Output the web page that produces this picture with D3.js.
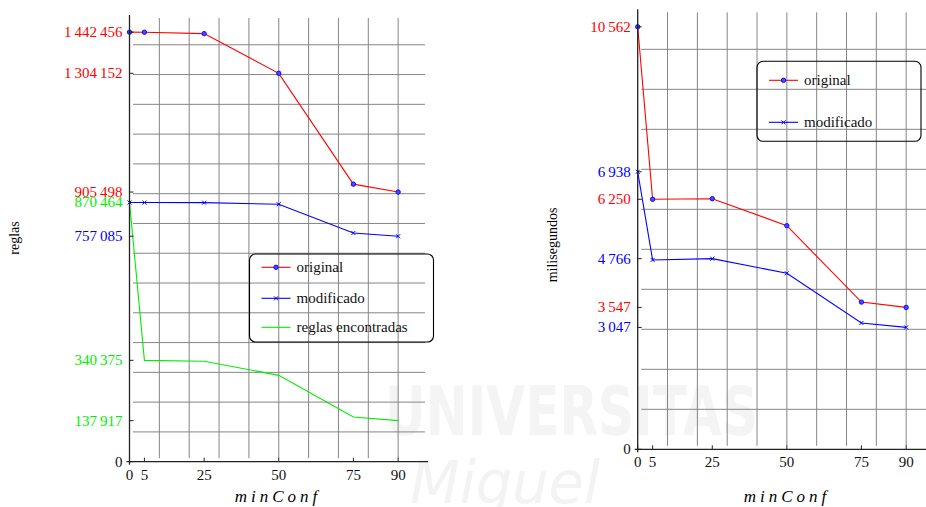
<!DOCTYPE html>
<html>
<head>
<meta charset="utf-8">
<title>reglas / milisegundos vs minConf</title>
<script src="https://d3js.org/d3.v7.min.js"></script>
<style>
  body { margin: 0; background: #fff; }
  svg { display: block; }
  svg text { font-family: "Liberation Serif", "Times New Roman", Times, serif; }
  .grid line { stroke: #858585; stroke-width: 1; }
  .axis-line { stroke: #222; stroke-width: 1.3; }
</style>
</head>
<body>
<svg id="chart" width="926" height="507"></svg>
<script>
// ---- datos ----
const minConf = [0, 5, 25, 50, 75, 90];

const reglasOriginal    = [1442456, 1442100, 1437500, 1304152, 932000, 905498];
const reglasModificado  = [870464, 870200, 869800, 864500, 768000, 757085];
const reglasEncontradas = [870464, 340375, 337200, 290000, 150000, 137917];

const tiempoOriginal   = [10562, 6250, 6265, 5590, 3680, 3547];
const tiempoModificado = [6938, 4733, 4766, 4400, 3158, 3047];

// etiquetas del eje y (valor y serie a la que pertenece)
const reglasTicks      = [0, 137917, 340375, 757085, 870464, 905498, 1304152, 1442456];
const reglasTickSeries = ["eje", "encontradas", "encontradas", "modificado", "encontradas", "original", "original", "original"];
const tiempoTicks      = [0, 3047, 3547, 4766, 6250, 6938, 10562];
const tiempoTickSeries = ["eje", "modificado", "original", "modificado", "original", "modificado", "original"];

const xTicks = [0, 5, 25, 50, 75, 90];

// ---- estilos ----
const colors = { original: "#ff0000", modificado: "#0000ff", encontradas: "#00ee00", eje: "#111" };
const serif = "\"Liberation Serif\", \"Times New Roman\", Times, serif";

const locale = d3.formatLocale({ decimal: ".", thousands: "\u2009", grouping: [3], currency: ["", ""] });
const fmt = locale.format(",d");

const svg = d3.select("#chart");

// marca de agua
svg.append("text")
    .attr("x", 385).attr("y", 435)
    .attr("textLength", 373).attr("lengthAdjust", "spacingAndGlyphs")
    .style("font-family", "\"DejaVu Sans\", sans-serif").style("font-weight", "bold")
    .style("font-size", "68px").style("fill", "#f4f4f4")
    .text("UNIVERSITAS");
svg.append("text")
    .attr("x", 410).attr("y", 503)
    .attr("textLength", 190).attr("lengthAdjust", "spacingAndGlyphs")
    .style("font-family", "\"DejaVu Sans\", sans-serif").style("font-style", "italic")
    .style("font-size", "58px").style("fill", "#f3f3f3")
    .text("Miguel");

function marker(g, type, cx, cy) {
    if (type === "circle") {
        g.append("circle").attr("cx", cx).attr("cy", cy).attr("r", 2.2)
            .attr("fill", "#4a4aff").attr("stroke", "#0000ff").attr("stroke-width", 0.9);
    } else if (type === "cross") {
        const s = 2;
        g.append("path")
            .attr("d", `M${cx - s},${cy - s}L${cx + s},${cy + s}M${cx - s},${cy + s}L${cx + s},${cy - s}`)
            .attr("stroke", "#0000ff").attr("stroke-width", 1);
    }
}

function panel(opt) {
    const g = svg.append("g");
    const x = d3.scaleLinear().domain([0, 100]).range(opt.xRange);
    const y = d3.scaleLinear().domain([0, opt.yMax]).range(opt.yRange);

    // rejilla
    const grid = g.append("g").attr("class", "grid");
    grid.selectAll("line.v").data(d3.range(10, 91, 10)).enter().append("line")
        .attr("x1", d => x(d)).attr("x2", d => x(d))
        .attr("y1", y(opt.yMax) + 3).attr("y2", y(0) - 3.5);
    grid.selectAll("line.h").data(d3.range(opt.yStep, opt.yMax, opt.yStep)).enter().append("line")
        .attr("x1", x(0) + 3.5).attr("x2", x(100) - 3)
        .attr("y1", d => y(d)).attr("y2", d => y(d));

    // series
    opt.series.forEach(s => {
        const pts = minConf.map((c, i) => [x(c), y(s.values[i])]);
        g.append("path")
            .attr("d", d3.line()(pts))
            .attr("fill", "none").attr("stroke", colors[s.key]).attr("stroke-width", 1.1);
        if (s.marker) pts.forEach(p => marker(g, s.marker, p[0], p[1]));
    });

    // ejes
    g.append("line").attr("class", "axis-line")
        .attr("x1", x(0)).attr("x2", x(0)).attr("y1", y(opt.yMax)).attr("y2", y(0) + 3);
    g.append("line").attr("class", "axis-line")
        .attr("x1", x(0) - 3).attr("x2", x(100)).attr("y1", y(0)).attr("y2", y(0));

    // marcas y etiquetas eje y
    opt.yTicks.forEach((v, i) => {
        g.append("line").attr("class", "axis-line").style("stroke-width", 1)
            .attr("x1", x(0)).attr("x2", x(0) + 4).attr("y1", y(v)).attr("y2", y(v));
        g.append("text")
            .attr("x", x(0) - 7).attr("y", y(v))
            .attr("dy", "0.33em").attr("text-anchor", "end")
            .style("font-family", serif)
            .style("font-size", "15px").style("fill", colors[opt.yTickSeries[i]])
            .text(fmt(v));
    });

    // marcas y etiquetas eje x
    xTicks.forEach(v => {
        g.append("line").attr("class", "axis-line").style("stroke-width", 1)
            .attr("x1", x(v)).attr("x2", x(v)).attr("y1", y(0)).attr("y2", y(0) - 4);
        g.append("text")
            .attr("x", x(v)).attr("y", y(0) + 18)
            .attr("text-anchor", "middle")
            .style("font-family", serif)
            .style("font-size", "15px").style("fill", "#111")
            .text(v);
    });

    // título de ejes
    g.append("text")
        .attr("x", opt.xLabelX).attr("y", 502)
        .attr("text-anchor", "middle")
        .style("font-family", serif)
        .style("font-size", "17px").style("font-style", "italic").style("letter-spacing", "4px")
        .text("minConf");
    g.append("text")
        .attr("transform", `translate(${opt.yLabel[0]},${opt.yLabel[1]}) rotate(-90)`)
        .attr("text-anchor", "middle")
        .style("font-family", serif)
        .style("font-size", "14px")
        .text(opt.yTitle);

    // leyenda
    const lg = g.append("g");
    lg.append("rect")
        .attr("x", opt.legend.x).attr("y", opt.legend.y)
        .attr("width", opt.legend.w).attr("height", opt.legend.h)
        .attr("rx", 6).attr("fill", "none").attr("stroke", "#000").attr("stroke-width", 1.1);
    opt.series.forEach((s, i) => {
        const ly = opt.legend.rows[i];
        const lx = opt.legend.x + 12;
        lg.append("line")
            .attr("x1", lx).attr("x2", lx + 29).attr("y1", ly).attr("y2", ly)
            .attr("stroke", colors[s.key]).attr("stroke-width", 1.1);
        if (s.marker) marker(lg, s.marker, lx + 14.5, ly);
        lg.append("text")
            .attr("x", lx + 35).attr("y", ly).attr("dy", "0.33em")
            .style("font-family", serif)
            .style("font-size", "15px").style("fill", "#111")
            .text(s.label);
    });
}

panel({
    xRange: [129.5, 428], yRange: [461.7, 15], yMax: 1500000, yStep: 100000,
    yTicks: reglasTicks, yTickSeries: reglasTickSeries,
    yTitle: "reglas", yLabel: [19, 238], xLabelX: 278,
    series: [
        { key: "original", label: "original", values: reglasOriginal, marker: "circle" },
        { key: "modificado", label: "modificado", values: reglasModificado, marker: "cross" },
        { key: "encontradas", label: "reglas encontradas", values: reglasEncontradas, marker: null }
    ],
    legend: { x: 249.5, y: 254, w: 184, h: 88, rows: [267.3, 298.3, 327.3] }
});

panel({
    xRange: [637.7, 936], yRange: [449.3, 9.3], yMax: 11000, yStep: 1000,
    yTicks: tiempoTicks, yTickSeries: tiempoTickSeries,
    yTitle: "milisegundos", yLabel: [557, 245], xLabelX: 787,
    series: [
        { key: "original", label: "original", values: tiempoOriginal, marker: "circle" },
        { key: "modificado", label: "modificado", values: tiempoModificado, marker: "cross" }
    ],
    legend: { x: 757, y: 61.3, w: 164, h: 80, rows: [80.3, 122.3] }
});
</script>
</body>
</html>
